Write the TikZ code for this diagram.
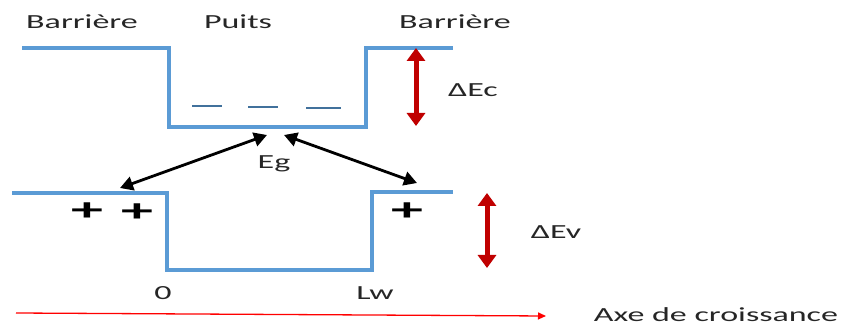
\documentclass[tikz,border=0pt]{standalone}
\usepackage{fontspec}
\setmainfont{Carlito}
\definecolor{bandBlue}{HTML}{5B9BD5}
\definecolor{levelBlue}{HTML}{41719C}
\definecolor{offsetRed}{HTML}{C00000}
\definecolor{axisRed}{HTML}{FF0000}
\usetikzlibrary{arrows.meta}

\begin{document}
\begin{tikzpicture}[x=1pt, y=-1pt,
    band/.style={bandBlue, line width=3.5pt},
    level/.style={levelBlue, line width=2.6pt},
    offset/.style={{Triangle[length=13pt,width=18pt]}-{Triangle[length=13pt,width=18pt]}, offsetRed, line width=5pt},
    gap/.style={{Triangle[length=13pt,width=14pt]}-{Triangle[length=13pt,width=14pt]}, black, line width=2.8pt},
    lbl/.style={font=\fontsize{20}{24}\selectfont, xscale=1.7, inner sep=0pt, text=black!85},
    hole/.style={font=\fontsize{32}{34}\selectfont\bfseries, xscale=2.0, inner sep=0pt}]
    \useasboundingbox (0,0) rectangle (847,326);

    % conduction band
    \draw[band] (22,48) -- (169,48) -- (169,127) -- (366,127) -- (366,48) -- (453,48);
    \draw[level] (192,106) -- (222,106);
    \draw[level] (248,107) -- (278,107);
    \draw[level] (306,108) -- (341,108);

    % valence band
    \draw[band] (12,193) -- (167,193) -- (167,270) -- (372,270) -- (372,192) -- (453,192);
    \node[hole] (holeA) at (87,212) {+};
    \node[hole] (holeB) at (137,213) {+};
    \node[hole] (holeC) at (407,212) {+};

    \node[lbl] (barL) at (82,22) {Barrière};
    \node[lbl] (puits) at (238,22) {Puits};
    \node[lbl] (barR) at (455,22) {Barrière};
    \node[lbl] (dEc) at (473,90) {ΔEc};
    \node[lbl] (dEv) at (556,232) {ΔEv};
    \node[lbl] (eg) at (274,164) {Eg};
    \node[lbl] (zero) at (163,293) {0};
    \node[lbl] (lw) at (375,293) {Lw};
    \node[lbl] (axe) at (716,315) {Axe de croissance};

    % band offsets
    \coordinate (ecTop) at (416,48);
    \coordinate (ecBot) at (416,126);
    \coordinate (evTop) at (487,193);
    \coordinate (evBot) at (487,268);
    \draw[offset] (ecTop) -- (ecBot);
    \draw[offset] (evTop) -- (evBot);

    % gap arrows
    \coordinate (gapL) at (267,135);
    \coordinate (gapR) at (284,135);
    \coordinate (vbL) at (120,188);
    \coordinate (vbR) at (417,183);
    \draw[gap] (gapL) -- (vbL);
    \draw[gap] (gapR) -- (vbR);

    % growth axis
    \coordinate (axStart) at (16,313);
    \coordinate (axEnd) at (546,316);
    \draw[axisRed, line width=1.3pt, -{Triangle[length=8pt,width=7pt]}] (axStart) -- (axEnd);
\end{tikzpicture}
\end{document}
